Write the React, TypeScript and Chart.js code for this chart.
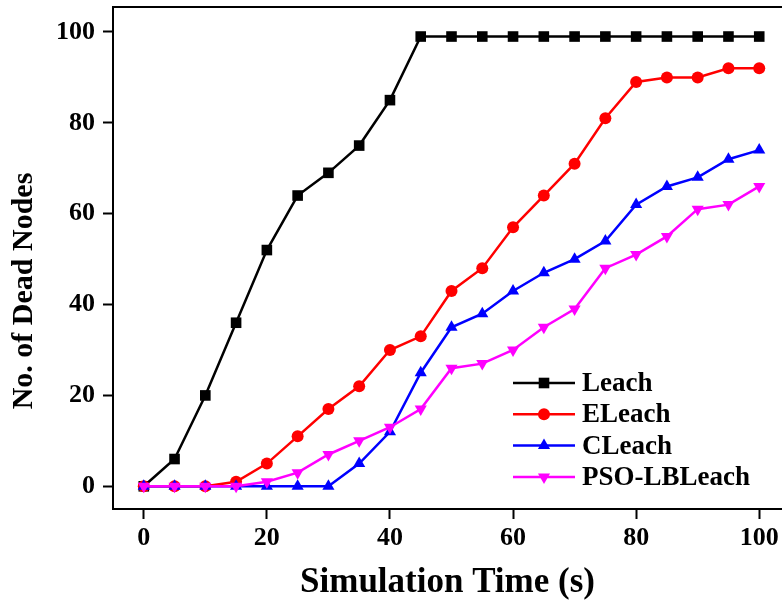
import React, { useEffect, useRef } from 'react';
import { Chart, registerables } from 'chart.js';

Chart.register(...registerables);

const times = [0, 5, 10, 15, 20, 25, 30, 35, 40, 45, 50, 55, 60, 65, 70, 75, 80, 85, 90, 95, 100];
const leach = [0, 6, 20, 36, 52, 64, 69, 75, 85, 99, 99, 99, 99, 99, 99, 99, 99, 99, 99, 99, 99];
const eleach = [0, 0, 0, 1, 5, 11, 17, 22, 30, 33, 43, 48, 57, 64, 71, 81, 89, 90, 90, 92, 92];
const cleach = [0, 0, 0, 0, 0, 0, 0, 5, 12, 25, 35, 38, 43, 47, 50, 54, 62, 66, 68, 72, 74];
const psoLbLeach = [0, 0, 0, 0, 1, 3, 7, 10, 13, 17, 26, 27, 30, 35, 39, 48, 51, 55, 61, 62, 66];

const seriesNames = ['Leach', 'ELeach', 'CLeach', 'PSO-LBLeach'];
const seriesColors = ['#000000', '#ff0000', '#0000ff', '#ff00ff'];
const xTicks = [0, 20, 40, 60, 80, 100];
const yTicks = [0, 20, 40, 60, 80, 100];
const xTitle = 'Simulation Time (s)';
const yTitle = 'No. of Dead Nodes';

const FONT = '"Liberation Serif", "Times New Roman", serif';

function drawMarker(ctx: CanvasRenderingContext2D, style: string, x: number, y: number, r: number) {
  ctx.beginPath();
  if (style === 'rect') {
    const s = r * Math.SQRT1_2;
    ctx.rect(x - s, y - s, 2 * s, 2 * s);
  } else if (style === 'circle') {
    ctx.arc(x, y, r, 0, Math.PI * 2);
  } else {
    const rot = style === 'down' ? Math.PI : 0;
    for (let k = 0; k < 3; k++) {
      const a = rot + (k * 2 * Math.PI) / 3;
      const px = x + Math.sin(a) * r;
      const py = y - Math.cos(a) * r;
      if (k === 0) ctx.moveTo(px, py);
      else ctx.lineTo(px, py);
    }
    ctx.closePath();
  }
  ctx.fill();
}

const legendStyles = ['rect', 'circle', 'up', 'down'];
const legendRadii = [7.5, 6, 7, 7];

const decorPlugin = {
  id: 'decor',
  afterDraw(chart: any) {
    const { ctx, chartArea: a } = chart;
    ctx.save();
    ctx.strokeStyle = '#000';
    ctx.lineWidth = 2;
    ctx.beginPath();
    ctx.moveTo(a.left, a.top);
    ctx.lineTo(a.right, a.top);
    ctx.stroke();

    ctx.save();
    ctx.translate(24, 291);
    ctx.rotate(-Math.PI / 2);
    ctx.fillStyle = '#000';
    ctx.font = `bold 30px ${FONT}`;
    ctx.textAlign = 'center';
    ctx.textBaseline = 'middle';
    ctx.fillText(yTitle, 0, 0);
    ctx.restore();

    const x0 = 513;
    const x1 = 575;
    const xm = 544;
    const tx = 582;
    const y0 = 383;
    const step = 31.3;
    seriesNames.forEach((name, i) => {
      const y = y0 + i * step;
      ctx.strokeStyle = seriesColors[i];
      ctx.fillStyle = seriesColors[i];
      ctx.lineWidth = 2.5;
      ctx.beginPath();
      ctx.moveTo(x0, y);
      ctx.lineTo(x1, y);
      ctx.stroke();
      drawMarker(ctx, legendStyles[i], xm, y, legendRadii[i]);
      ctx.fillStyle = '#000';
      ctx.font = `bold 27px ${FONT}`;
      ctx.textAlign = 'left';
      ctx.textBaseline = 'middle';
      ctx.fillText(name, tx, y + 1);
    });
    ctx.restore();
  },
};

function zeroPadding(scale: any) {
  scale.paddingTop = 0;
  scale.paddingBottom = 0;
  scale.paddingLeft = 0;
  scale.paddingRight = 0;
}

export default function App() {
  const ref = useRef<HTMLCanvasElement | null>(null);

  useEffect(() => {
    if (!ref.current) return;
    const series = [leach, eleach, cleach, psoLbLeach];
    const pointStyles: any[] = ['rect', 'circle', 'triangle', 'triangle'];
    const rotations = [0, 0, 0, 180];
    const datasets = series.map((vals, i) => ({
      label: seriesNames[i],
      data: times.map((t, j) => ({ x: t, y: vals[j] })),
      borderColor: seriesColors[i],
      backgroundColor: seriesColors[i],
      borderWidth: 2.5,
      pointStyle: pointStyles[i],
      pointRotation: rotations[i],
      pointRadius: legendRadii[i],
      pointBorderWidth: 0,
      pointBackgroundColor: seriesColors[i],
      tension: 0,
      order: 3 - i,
      clip: 10,
    }));

    const chart = new Chart(ref.current, {
      type: 'line',
      data: { datasets },
      plugins: [decorPlugin],
      options: {
        animation: false,
        responsive: false,
        devicePixelRatio: 1,
        layout: { autoPadding: false, padding: { top: 7, right: 0, left: 0, bottom: 0 } },
        plugins: {
          legend: { display: false },
          tooltip: { enabled: false },
        },
        scales: {
          x: {
            type: 'linear',
            min: -5,
            max: 103.7,
            afterBuildTicks: (scale: any) => {
              scale.ticks = xTicks.map((v) => ({ value: v }));
            },
            afterFit: (scale: any) => {
              scale.height = 94;
              zeroPadding(scale);
            },
            grid: {
              display: true,
              drawOnChartArea: false,
              drawTicks: true,
              tickLength: 10,
              tickWidth: 2,
              tickColor: '#000',
              color: '#000',
            },
            border: { display: true, color: '#000', width: 2 },
            ticks: {
              color: '#000',
              padding: 4,
              maxRotation: 0,
              font: { family: FONT, size: 26, weight: 'bold' },
            },
            title: {
              display: true,
              text: xTitle,
              color: '#000',
              font: { family: FONT, size: 35, weight: 'bold', lineHeight: 1 },
              padding: { top: 0, bottom: 3 },
            },
          },
          y: {
            type: 'linear',
            min: -5,
            max: 105.5,
            afterBuildTicks: (scale: any) => {
              scale.ticks = yTicks.map((v) => ({ value: v }));
            },
            afterFit: (scale: any) => {
              scale.width = 113;
              zeroPadding(scale);
            },
            grid: {
              display: true,
              drawOnChartArea: false,
              drawTicks: true,
              tickLength: 10,
              tickWidth: 2,
              tickColor: '#000',
              color: '#000',
            },
            border: { display: true, color: '#000', width: 2 },
            ticks: {
              color: '#000',
              padding: 8,
              font: { family: FONT, size: 26, weight: 'bold' },
            },
          },
        },
      },
    } as any);
    return () => chart.destroy();
  }, []);

  return (
    <div style={{ position: 'absolute', left: 0, top: 0, width: 782, height: 603, background: '#fff' }}>
      <canvas ref={ref} width={782} height={603} style={{ display: 'block', width: 782, height: 603 }} />
    </div>
  );
}
